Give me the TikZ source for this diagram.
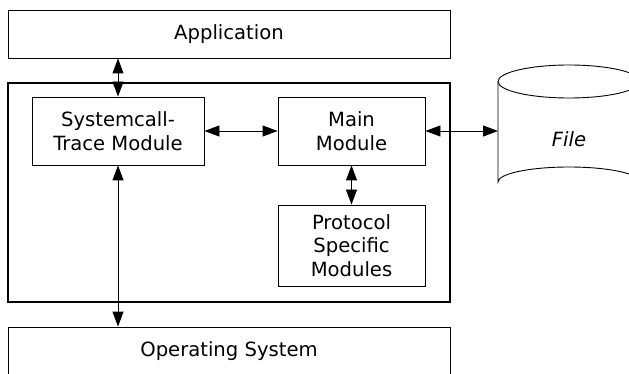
\documentclass[tikz,border=0pt]{standalone}
\usepackage{fontspec}
\setmainfont{DejaVu Sans}
\usetikzlibrary{arrows.meta}
\begin{document}
\begin{tikzpicture}[x=1pt,y=-1pt,
  txt/.style={font=\fontsize{19.6}{23.5}\selectfont},
  blk/.style={txt, draw, line width=0.9pt, inner sep=0pt, align=center},
  frame/.style={draw, line width=2.2pt, inner sep=0pt},
  link/.style={line width=0.9pt,
    {Triangle[length=15pt,width=11pt]}-{Triangle[length=15pt,width=11pt]}}]
\useasboundingbox (0,0) rectangle (629,374);
\clip (0,0) rectangle (629,374);
\fill[white] (0,0) rectangle (629,374);

% outer layers
\node[blk, minimum width=442pt, minimum height=48pt] (app) at (229,34) {Application};
\node[frame, minimum width=442pt, minimum height=219pt] (core) at (229,192.5) {};
\node[blk, minimum width=442pt, minimum height=48pt] (os) at (229,351) {Operating System};

% modules inside the core frame
\node[blk, minimum width=172pt, minimum height=68pt] (sys) at (118,131) {Systemcall-\\Trace Module};
\node[blk, minimum width=147pt, minimum height=68pt] (main) at (351.5,131) {Main\\Module};
\node[blk, minimum width=147pt, minimum height=81pt] (proto) at (351.5,245.5) {Protocol\\Specific\\Modules};

% storage cylinder
\draw[line width=0.9pt] (569,81.5) ellipse [x radius=71, y radius=16.5];
\draw[line width=0.9pt] (498,81.5) -- (498,182) arc [start angle=180, end angle=360, x radius=71, y radius=15];
\coordinate (filew) at (498,131);
\node[font=\fontsize{19.6}{23.5}\selectfont\itshape, inner sep=0pt] (file) at (569,139.5) {File};

% connectors
\draw[link] (app.south -| sys.north) -- (sys.north);
\draw[link] (sys.east) -- (main.west);
\draw[link] (main.east) -- (filew);
\draw[link] (main.south) -- (proto.north);
\draw[link] (sys.south) -- (sys.south |- os.north);
\end{tikzpicture}
\end{document}
